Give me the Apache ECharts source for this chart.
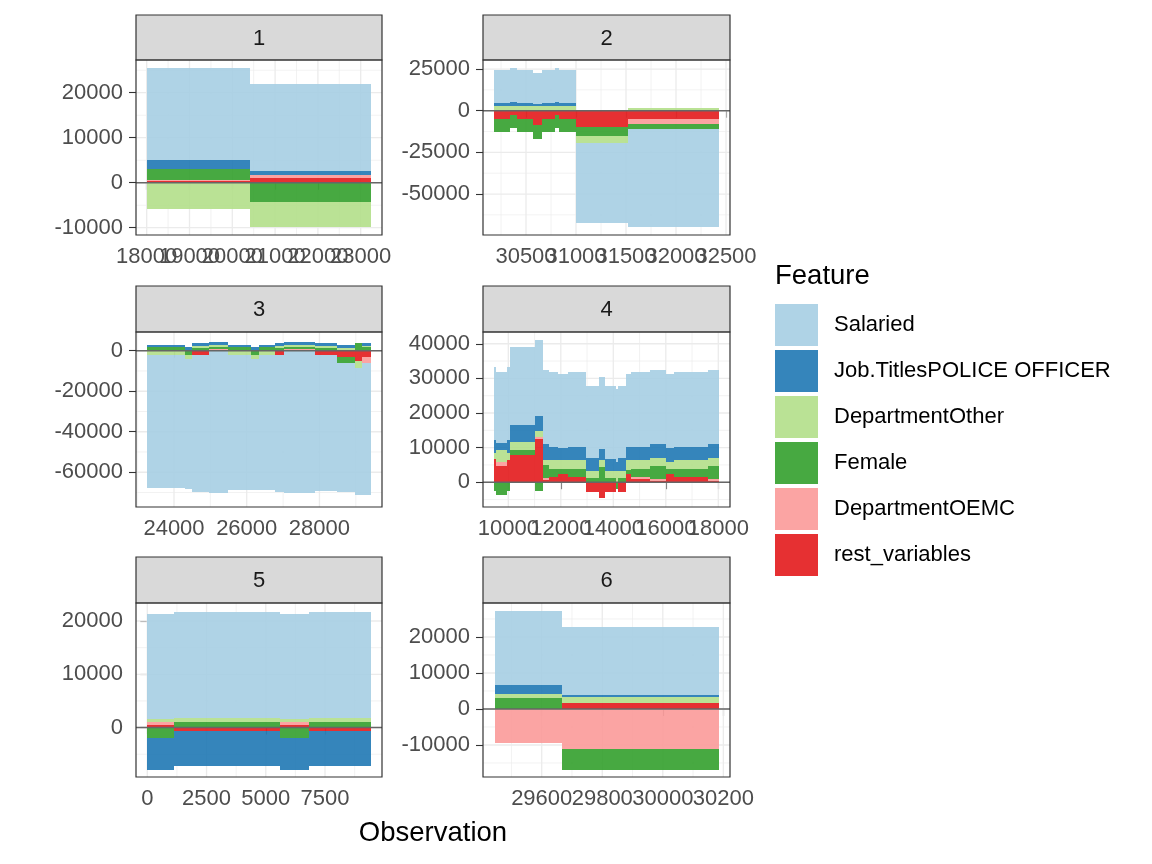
<!DOCTYPE html>
<html><head><meta charset="utf-8">
<script src="https://cdn.jsdelivr.net/npm/echarts@6/dist/echarts.min.js"></script>
<style>html,body{margin:0;padding:0;background:#fff}#chart{width:1152px;height:864px}</style>
</head><body><div id="chart"></div>
<script>
// ---------------- DATA ----------------
const FEATURES = ['Salaried', 'Job.TitlesPOLICE OFFICER', 'DepartmentOther', 'Female', 'DepartmentOEMC', 'rest_variables'];
const PANEL_NAMES = ['1', '2', '3', '4', '5', '6'];

// Panel 1 (segment edges on the Observation axis, then one value per segment for each feature)
const p1_edges     = [18010, 20414, 23240];
const p1_salaried  = [20380, 19330];
const p1_job       = [2070, 890];
const p1_deptOther = [-5850, -5560];
const p1_female    = [2370, -4220];
const p1_oemc      = [200, 740];
const p1_rest      = [400, 970];

// Panel 2
const p2_edges     = [30180, 30340, 30410, 30570, 30660, 30790, 30830, 31000, 31517, 32433];
const p2_salaried  = [19620, 20220, 19620, 18960, 19620, 20220, 19620, -48000, -58440];
const p2_job       = [1980, 2580, 1980, 1020, 1980, 2580, 1980, 0, 0];
const p2_deptOther = [2820, 2820, 2820, 2820, 2820, 2820, 2820, -4380, 1440];
const p2_female    = [-7620, -7980, -7620, -8400, -7620, -7980, -7620, -5220, -3180];
const p2_oemc      = [0, 0, 0, 0, 0, 0, 0, 0, -3000];
const p2_rest      = [-4980, -2580, -4980, -8580, -4980, -2580, -4980, -9960, -4980];

// Panel 3
const p3_edges     = [23255, 24302, 24485, 24972, 25485, 26118, 26328, 26777, 27016, 27877, 28482, 28977, 29170, 29417];
const p3_salaried  = [-65850, -64100, -67550, -70200, -66450, -64600, -66750, -67850, -70200, -67250, -63700, -63100, -65400];
const p3_job       = [1150, 2000, 1150, 1190, 1150, 2000, 1150, 1150, 1190, 1150, 1600, 0, 1150];
const p3_deptOther = [-2150, -2200, 1200, 1150, -2150, -2200, -2150, 1200, 1150, 1200, 1200, -3300, 850];
const p3_female    = [1650, -1800, 1300, 800, 1650, -1800, 1650, 1300, 800, 1300, -3000, 3650, 1650];
const p3_oemc      = [0, 0, 0, 1000, 0, 0, 0, 0, 1000, 0, 0, 0, -3000];
const p3_rest      = [0, -300, -2150, 0, 0, -300, 0, -2150, 0, -2150, -3000, -5000, -3000];

// Panel 4
const p4_edges     = [9455, 9531, 9950, 10065, 11029, 11322, 11550, 11893, 12274, 12960, 13455, 13684, 14103, 14179, 14484, 14675, 15398, 16008, 16313, 17608, 18027];
const p4_salaried  = [21080, 20680, 21080, 22530, 22040, 21470, 21650, 21370, 21650, 20980, 20890, 21180, 21080, 20980, 21270, 21650, 21470, 21470, 21650, 21470];
const p4_job       = [3860, 1940, 3860, 4840, 4350, 4720, 3870, 3580, 3870, 3580, 3190, 3380, 2610, 3580, 3680, 3870, 3960, 3960, 3870, 3960];
const p4_deptOther = [1740, 3380, 1940, 2420, 1650, 1200, 2420, 2420, 2420, 2030, 1930, 2030, 3290, 2030, 2710, 2510, 2420, 2030, 2420, 2420];
const p4_female    = [-2510, -3770, -2510, 1450, -2510, 3900, 2410, 1450, 2410, 1260, 4450, 1260, -1840, 1260, 1160, 2320, 3580, 1360, 2410, 3580];
const p4_oemc      = [0, 1260, 0, 0, 680, 700, 0, 0, 0, 0, 0, 0, 0, 0, 0, 490, 660, 0, 0, 660];
const p4_rest      = [6580, 4640, 6380, 7830, 12470, 500, 1550, 2510, 1550, -2800, -4540, -2800, 0, -2800, 2510, 1060, 400, 2510, 1550, 400];

// Panel 5
const p5_edges     = [0, 1127, 5590, 6815, 9441];
const p5_salaried  = [19820, 20010, 19820, 20010];
const p5_job       = [-6040, -6540, -6040, -6540];
const p5_deptOther = [560, 750, 560, 750];
const p5_female    = [-1870, 1010, -1870, 1010];
const p5_oemc      = [510, 0, 510, 0];
const p5_rest      = [500, -620, 500, -620];

// Panel 6
const p6_edges     = [29444, 29667, 30187];
const p6_salaried  = [20560, 18900];
const p6_job       = [2300, 550];
const p6_deptOther = [1310, 1670];
const p6_female    = [2970, -5830];
const p6_oemc      = [-9440, -11200];
const p6_rest      = [0, 1580];

// Tick labels (major) and minor grid positions
const p1_xTicks = [18000, 19000, 20000, 21000, 22000, 23000];
const p1_xMinor = [18500, 19500, 20500, 21500, 22500];
const p1_yTicks = [-10000, 0, 10000, 20000];
const p1_yMinor = [-5000, 5000, 15000, 25000];
const p2_xTicks = [30500, 31000, 31500, 32000, 32500];
const p2_xMinor = [30250, 30750, 31250, 31750, 32250];
const p2_yTicks = [-50000, -25000, 0, 25000];
const p2_yMinor = [-62500, -37500, -12500, 12500];
const p3_xTicks = [24000, 26000, 28000];
const p3_xMinor = [23000, 25000, 27000, 29000];
const p3_yTicks = [-60000, -40000, -20000, 0];
const p3_yMinor = [-70000, -50000, -30000, -10000];
const p4_xTicks = [10000, 12000, 14000, 16000, 18000];
const p4_xMinor = [11000, 13000, 15000, 17000];
const p4_yTicks = [0, 10000, 20000, 30000, 40000];
const p4_yMinor = [-5000, 5000, 15000, 25000, 35000];
const p5_xTicks = [0, 2500, 5000, 7500];
const p5_xMinor = [1250, 3750, 6250, 8750];
const p5_yTicks = [0, 10000, 20000];
const p5_yMinor = [-5000, 5000, 15000];
const p6_xTicks = [29600, 29800, 30000, 30200];
const p6_xMinor = [29500, 29700, 29900, 30100];
const p6_yTicks = [-10000, 0, 10000, 20000];
const p6_yMinor = [-15000, -5000, 5000, 15000, 25000];

// ---------------- STYLE / LAYOUT ----------------
const COLORS = ['rgba(166,206,227,0.9)', 'rgba(31,120,180,0.9)', 'rgba(178,223,138,0.9)',
                'rgba(51,160,44,0.9)', 'rgba(251,154,153,0.9)', 'rgba(227,26,28,0.9)'];
const FONT = "'Liberation Sans', Arial, sans-serif";
const LAYOUT = [
  {left: 136, top: 60,  width: 246, height: 175, stripTop: 15,  xr: [17750, 23498], yr: [-11620, 27270]},
  {left: 483, top: 60,  width: 247, height: 175, stripTop: 15,  xr: [30070, 32540], yr: [-74580, 30420]},
  {left: 136, top: 332, width: 246, height: 175, stripTop: 286, xr: [22955, 29720], yr: [-77160, 9250]},
  {left: 483, top: 332, width: 247, height: 175, stripTop: 286, xr: [9036, 18446],  yr: [-7160, 43400]},
  {left: 136, top: 603, width: 246, height: 174, stripTop: 557, xr: [-477, 9905],   yr: [-9275, 23375]},
  {left: 483, top: 603, width: 247, height: 174, stripTop: 557, xr: [29406, 30222], yr: [-18890, 29440]}
];

const PANELS = [
  {edges: p1_edges, vals: [p1_salaried, p1_job, p1_deptOther, p1_female, p1_oemc, p1_rest], xt: p1_xTicks, xm: p1_xMinor, yt: p1_yTicks, ym: p1_yMinor},
  {edges: p2_edges, vals: [p2_salaried, p2_job, p2_deptOther, p2_female, p2_oemc, p2_rest], xt: p2_xTicks, xm: p2_xMinor, yt: p2_yTicks, ym: p2_yMinor},
  {edges: p3_edges, vals: [p3_salaried, p3_job, p3_deptOther, p3_female, p3_oemc, p3_rest], xt: p3_xTicks, xm: p3_xMinor, yt: p3_yTicks, ym: p3_yMinor},
  {edges: p4_edges, vals: [p4_salaried, p4_job, p4_deptOther, p4_female, p4_oemc, p4_rest], xt: p4_xTicks, xm: p4_xMinor, yt: p4_yTicks, ym: p4_yMinor},
  {edges: p5_edges, vals: [p5_salaried, p5_job, p5_deptOther, p5_female, p5_oemc, p5_rest], xt: p5_xTicks, xm: p5_xMinor, yt: p5_yTicks, ym: p5_yMinor},
  {edges: p6_edges, vals: [p6_salaried, p6_job, p6_deptOther, p6_female, p6_oemc, p6_rest], xt: p6_xTicks, xm: p6_xMinor, yt: p6_yTicks, ym: p6_yMinor}
];

// stacking order from zero outward (ggplot: first level ends up farthest from zero)
const STACK_ORDER = [5, 4, 3, 2, 1, 0];

const grids = [], xAxes = [], xAxesAlt = [], yAxes = [], series = [], graphics = [];
const xLabelStyle = {fontSize: 22, fontFamily: FONT, color: '#4D4D4D', margin: 11, hideOverlap: false,
  showMinLabel: true, showMaxLabel: true, formatter: v => String(v)};

PANELS.forEach((P, pi) => {
  const L = LAYOUT[pi];
  grids.push({left: L.left, top: L.top, width: L.width, height: L.height, containLabel: false, outerBoundsMode: 'none', show: false});
  // labels split over two axes (every other tick) so that ECharts does not drop overlapping end labels
  const evenTicks = P.xt.filter((v, i) => i % 2 === 0);
  const oddTicks = P.xt.filter((v, i) => i % 2 === 1);
  xAxes.push({
    type: 'value', gridIndex: pi, min: L.xr[0], max: L.xr[1], position: 'bottom',
    axisLine: {show: false}, splitLine: {show: false},
    axisTick: {show: true, length: 7, customValues: P.xt, lineStyle: {color: '#333333', width: 1.1}},
    axisLabel: Object.assign({customValues: evenTicks}, xLabelStyle)
  });
  xAxesAlt.push({
    type: 'value', gridIndex: pi, min: L.xr[0], max: L.xr[1], position: 'bottom', offset: 0,
    axisLine: {show: false}, splitLine: {show: false}, axisTick: {show: false},
    axisLabel: Object.assign({customValues: oddTicks, show: oddTicks.length > 0}, xLabelStyle)
  });
  yAxes.push({
    type: 'value', gridIndex: pi, min: L.yr[0], max: L.yr[1],
    axisLine: {show: false}, splitLine: {show: false},
    axisTick: {show: true, length: 7, customValues: P.yt, lineStyle: {color: '#333333', width: 1.1}},
    axisLabel: {customValues: P.yt, fontSize: 22, fontFamily: FONT, color: '#4D4D4D', margin: 13,
      hideOverlap: false, showMinLabel: true, showMaxLabel: true, formatter: v => String(v)}
  });

  // grid lines: [value, orient(0 vertical,1 horizontal), major(1)/minor(0)]
  const gl = [];
  P.xm.forEach(v => gl.push([v, 0, 0]));
  P.ym.forEach(v => gl.push([v, 1, 0]));
  P.xt.forEach(v => gl.push([v, 0, 1]));
  P.yt.forEach(v => gl.push([v, 1, 1]));
  series.push({
    type: 'custom', xAxisIndex: pi, yAxisIndex: pi, silent: true, z: 1, clip: true,
    data: gl, encode: {x: 0, y: 1},
    renderItem: (params, api) => {
      const cs = params.coordSys;
      const v = api.value(0), o = api.value(1), m = api.value(2);
      const style = {stroke: '#EBEBEB', lineWidth: m ? 1.3 : 0.65};
      if (o === 0) {
        const x = api.coord([v, L.yr[0]])[0];
        return {type: 'line', shape: {x1: x, y1: cs.y, x2: x, y2: cs.y + cs.height}, style};
      }
      const y = api.coord([L.xr[0], v])[1];
      return {type: 'line', shape: {x1: cs.x, y1: y, x2: cs.x + cs.width, y2: y}, style};
    }
  });

  // stacked blocks
  const rects = FEATURES.map(() => []);
  for (let s = 0; s < P.edges.length - 1; s++) {
    let pos = 0, neg = 0;
    STACK_ORDER.forEach(f => {
      const v = P.vals[f][s];
      if (!v) return;
      let lo, hi;
      if (v > 0) { lo = pos; hi = pos + v; pos = hi; }
      else { hi = neg; lo = neg + v; neg = lo; }
      rects[f].push([P.edges[s], P.edges[s + 1], lo, hi]);
    });
  }
  FEATURES.forEach((name, f) => {
    series.push({
      type: 'custom', name, xAxisIndex: pi, yAxisIndex: pi, silent: true, z: 2, clip: true,
      itemStyle: {color: COLORS[f]},
      data: rects[f], encode: {x: [0, 1], y: [2, 3]},
      renderItem: (params, api) => {
        const a = api.coord([api.value(0), api.value(3)]);
        const b = api.coord([api.value(1), api.value(2)]);
        const x0 = Math.round(a[0]), x1 = Math.round(b[0]);
        const y0 = Math.round(a[1]), y1 = Math.round(b[1]);
        return {type: 'rect', shape: {x: x0, y: y0, width: x1 - x0, height: y1 - y0}, style: {fill: COLORS[f]}};
      }
    });
  });

  // zero line
  series.push({
    type: 'custom', xAxisIndex: pi, yAxisIndex: pi, silent: true, z: 3, clip: true,
    data: [[L.xr[0], 0]], encode: {x: 0, y: 1},
    renderItem: (params, api) => {
      const cs = params.coordSys;
      const y = api.coord([L.xr[0], 0])[1];
      return {type: 'line', shape: {x1: cs.x, y1: y, x2: cs.x + cs.width, y2: y}, style: {stroke: '#666666', lineWidth: 1.6}};
    }
  });

  // strip + border
  graphics.push({type: 'rect', z: 100, shape: {x: L.left, y: L.stripTop, width: L.width, height: L.top - L.stripTop},
    style: {fill: '#D9D9D9', stroke: '#333333', lineWidth: 1.2}});
  graphics.push({type: 'text', z: 101, x: L.left + L.width / 2, y: (L.stripTop + L.top) / 2 + 1,
    style: {text: PANEL_NAMES[pi], fontSize: 22, fontFamily: FONT, fill: '#1A1A1A', align: 'center', verticalAlign: 'middle'}});
  graphics.push({type: 'rect', z: 100, shape: {x: L.left, y: L.top, width: L.width, height: L.height},
    style: {fill: null, stroke: '#333333', lineWidth: 1.2}});
});

graphics.push({type: 'text', z: 101, x: 433, y: 833,
  style: {text: 'Observation', fontSize: 27.5, fontFamily: FONT, fill: '#000000', align: 'center', verticalAlign: 'middle'}});
graphics.push({type: 'text', z: 101, x: 775, y: 276,
  style: {text: 'Feature', fontSize: 27.5, fontFamily: FONT, fill: '#000000', align: 'left', verticalAlign: 'middle'}});

const chart = echarts.init(document.getElementById('chart'), null, {renderer: 'canvas'});
chart.setOption({
  backgroundColor: '#ffffff',
  animation: false,
  grid: grids, xAxis: xAxes.concat(xAxesAlt), yAxis: yAxes, series,
  legend: {
    data: FEATURES, orient: 'vertical', left: 775, top: 304, padding: 0,
    itemWidth: 43, itemHeight: 42, itemGap: 4, icon: 'rect', selectedMode: false,
    textStyle: {fontSize: 22, fontFamily: FONT, color: '#000000', padding: [4, 0, 0, 11]}
  },
  graphic: {elements: graphics}
});
</script></body></html>
